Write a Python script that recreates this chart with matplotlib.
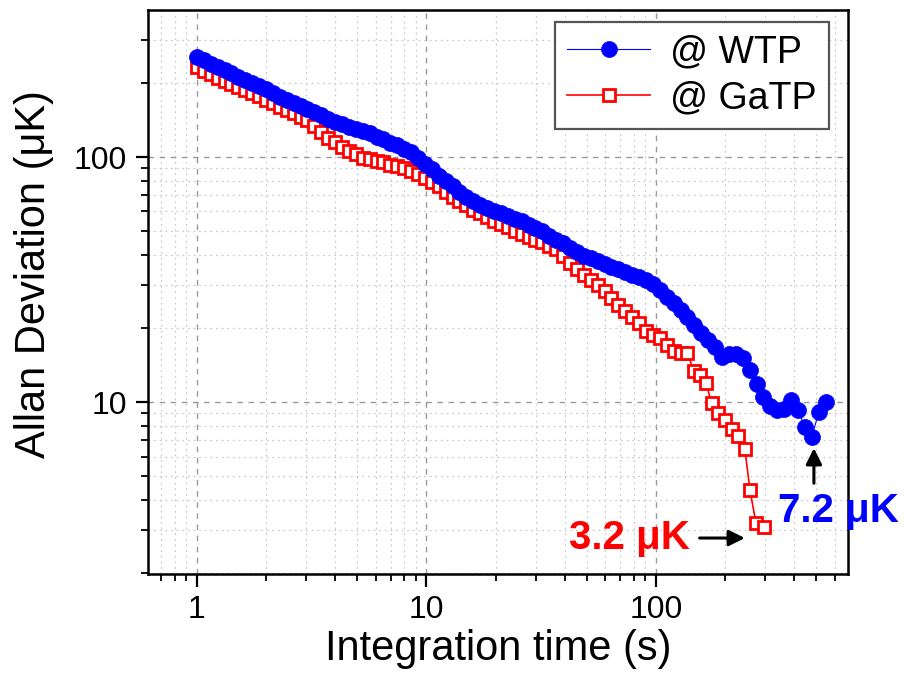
import matplotlib
matplotlib.use("Agg")
import matplotlib.pyplot as plt
from matplotlib.ticker import LogLocator, NullFormatter, FixedLocator, FixedFormatter

plt.rcParams['font.family'] = ['Liberation Sans', 'DejaVu Sans']

# ---------------- data ----------------
tau_wtp = [1.000, 1.072, 1.149, 1.231, 1.320, 1.414, 1.516, 1.625, 1.741, 1.866,
           2.000, 2.144, 2.297, 2.462, 2.639, 2.828, 3.031, 3.249, 3.482, 3.732,
           4.000, 4.287, 4.595, 4.925, 5.278, 5.657, 6.063, 6.498, 6.964, 7.464,
           8.000, 8.574, 9.190, 9.849, 10.56, 11.31, 12.13, 13.00, 13.93, 14.93,
           16.00, 17.15, 18.38, 19.70, 21.11, 22.63, 24.25, 25.99, 27.86, 29.86,
           32.00, 34.30, 36.76, 39.40, 42.22, 45.25, 48.50, 51.98, 55.72, 59.71,
           64.00, 68.59, 73.52, 78.79, 84.45, 90.51, 97.01, 104.0, 111.4, 119.4,
           128.0, 137.2, 147.0, 157.6, 168.9, 181.0, 194.0, 207.9, 222.9, 238.9,
           256.0, 274.4, 294.1, 315.2, 337.8, 362.0, 388.0, 415.9, 445.7, 477.7,
           512.0, 548.7]
adev_wtp = [256, 248, 240, 232, 226, 220, 213, 207, 201, 195,
            189, 183, 176, 171, 166, 162, 157, 152, 148, 143,
            139, 136, 133, 130, 128, 125, 121, 118, 114, 112,
            108, 105, 99, 94, 89, 84, 80, 76, 72, 69,
            66, 64, 62, 60.5, 59, 57.5, 56, 55, 53, 51.5,
            50, 47.5, 46, 44.5, 42.5, 41, 39.6, 38.6, 37.5, 36.6,
            35.6, 34.8, 34.0, 33.0, 32.3, 31.5, 30.2, 28.7, 26.9, 25.3,
            23.8, 22.3, 20.6, 19.2, 18.0, 16.8, 15.3, 15.7, 15.7, 15.2,
            13.5, 11.9, 10.5, 9.6, 9.3, 9.4, 10.2, 9.3, 7.9, 7.2,
            9.1, 10.0]

tau_gatp = [1.000, 1.072, 1.149, 1.231, 1.320, 1.414, 1.516, 1.625, 1.741, 1.866,
            2.000, 2.144, 2.297, 2.462, 2.639, 2.828, 3.031, 3.249, 3.482, 3.732,
            4.000, 4.287, 4.595, 4.925, 5.278, 5.657, 6.063, 6.498, 6.964, 7.464,
            8.000, 8.574, 9.190, 9.849, 10.56, 11.31, 12.13, 13.00, 13.93, 14.93,
            16.00, 17.15, 18.38, 19.70, 21.11, 22.63, 24.25, 25.99, 27.86, 29.86,
            32.00, 34.30, 36.76, 39.40, 42.22, 45.25, 48.50, 51.98, 55.72, 59.71,
            64.00, 68.59, 73.52, 78.79, 84.45, 90.51, 97.01, 104.0, 111.4, 119.4,
            128.0, 137.2, 146.0, 155.0, 165.0, 175.0, 187.0, 200.0, 214.0, 228.0,
            244.0, 257.0, 273.0, 296.0]
adev_gatp = [233, 225, 218, 211, 204, 198, 193, 188, 183, 177,
             171, 166, 160, 155, 151, 146, 141, 134, 127, 120,
             115, 110, 106, 103, 99, 98, 96, 95, 93, 92,
             90, 88, 85, 82, 79, 76, 72, 69, 66, 63.5,
             61, 59, 57, 55, 53.5, 52, 50, 48.5, 47.3, 46,
             45, 43.5, 42, 39.5, 37, 35, 33, 31.5, 30, 28.3,
             26.5, 25.0, 23.5, 22.3, 21.0, 19.6, 18.8, 18.2, 17.1, 16.1,
             15.9, 15.9, 13.4, 12.9, 12.0, 9.9, 9.0, 8.45, 7.8, 7.3,
             6.45, 4.37, 3.2, 3.1]

series_labels = ["@ WTP", "@ GaTP"]
x_ticks = [1, 10, 100]
x_ticklabels = ["1", "10", "100"]
y_ticks = [10, 100]
y_ticklabels = ["10", "100"]

# ---------------- figure ----------------
fig = plt.figure(figsize=(9.05, 6.73), dpi=100)
ax = fig.add_axes([148/905, 1-574/673, 700/905, 564/673])

ax.set_xscale('log')
ax.set_yscale('log')
ax.set_xlim(0.612, 687)
ax.set_ylim(1.99, 398)

# grid
ax.grid(True, which='major', linestyle=(0, (4, 4)), color='#999999', linewidth=1.0)
ax.grid(True, which='minor', linestyle=(0, (1.5, 3)), color='#cccccc', linewidth=0.9)
ax.set_axisbelow(True)

l_red, = ax.plot(tau_gatp, adev_gatp, color='#ff0000', linewidth=1.2,
                 marker='s', markersize=8.0, markerfacecolor='white',
                 markeredgecolor='#ff0000', markeredgewidth=2.0, zorder=3,
                 label=series_labels[1])
l_blue, = ax.plot(tau_wtp, adev_wtp, color='#0000ff', linewidth=0.8,
                  marker='o', markersize=11.5, markerfacecolor='#0000ff',
                  markeredgecolor='#0000ff', markeredgewidth=0.5, zorder=4,
                  label=series_labels[0])

# ticks
ax.xaxis.set_major_locator(FixedLocator(x_ticks))
ax.xaxis.set_major_formatter(FixedFormatter(x_ticklabels))
ax.xaxis.set_minor_locator(LogLocator(base=10, subs=range(2, 10), numticks=20))
ax.xaxis.set_minor_formatter(NullFormatter())
ax.yaxis.set_major_locator(FixedLocator(y_ticks))
ax.yaxis.set_major_formatter(FixedFormatter(y_ticklabels))
ax.yaxis.set_minor_locator(LogLocator(base=10, subs=range(2, 10), numticks=20))
ax.yaxis.set_minor_formatter(NullFormatter())

ax.tick_params(which='major', direction='out', length=9, width=1.6,
               labelsize=23, pad=6, top=False, right=False)
ax.tick_params(which='minor', direction='out', length=5, width=1.3,
               top=False, right=False)

for s in ax.spines.values():
    s.set_linewidth(1.8)
    s.set_color('black')

ax.set_xlabel("Integration time (s)", fontsize=30, labelpad=3)
ax.set_ylabel("Allan Deviation (μK)", fontsize=30)
ax.yaxis.set_label_coords(-0.134, 0.532)

leg = ax.legend(handles=[l_blue, l_red], loc='upper right',
                bbox_to_anchor=(829/905, 1-22/673), bbox_transform=fig.transFigure,
                fontsize=27, frameon=True, fancybox=False, framealpha=1,
                edgecolor='#555555', handlelength=2.2, handletextpad=0.55,
                labelspacing=0.28, borderpad=0.32, borderaxespad=0)
leg.get_frame().set_linewidth(1.6)

# annotations
ax.annotate("", xy=(244, 2.79), xytext=(155, 2.79),
            arrowprops=dict(arrowstyle='-|>', color='black', lw=2.2,
                            mutation_scale=24, shrinkA=0, shrinkB=0))
ax.text(77, 2.79, "3.2 μK", color='#ff0000', fontsize=29, fontweight='bold',
        ha='center', va='center')
ax.annotate("", xy=(488, 6.49), xytext=(488, 4.67),
            arrowprops=dict(arrowstyle='-|>', color='black', lw=2.2,
                            mutation_scale=24, shrinkA=0, shrinkB=0))
ax.text(627, 3.59, "7.2 μK", color='#0000ff', fontsize=29, fontweight='bold',
        ha='center', va='center', clip_on=False)

fig.savefig("out.png", dpi=100)
